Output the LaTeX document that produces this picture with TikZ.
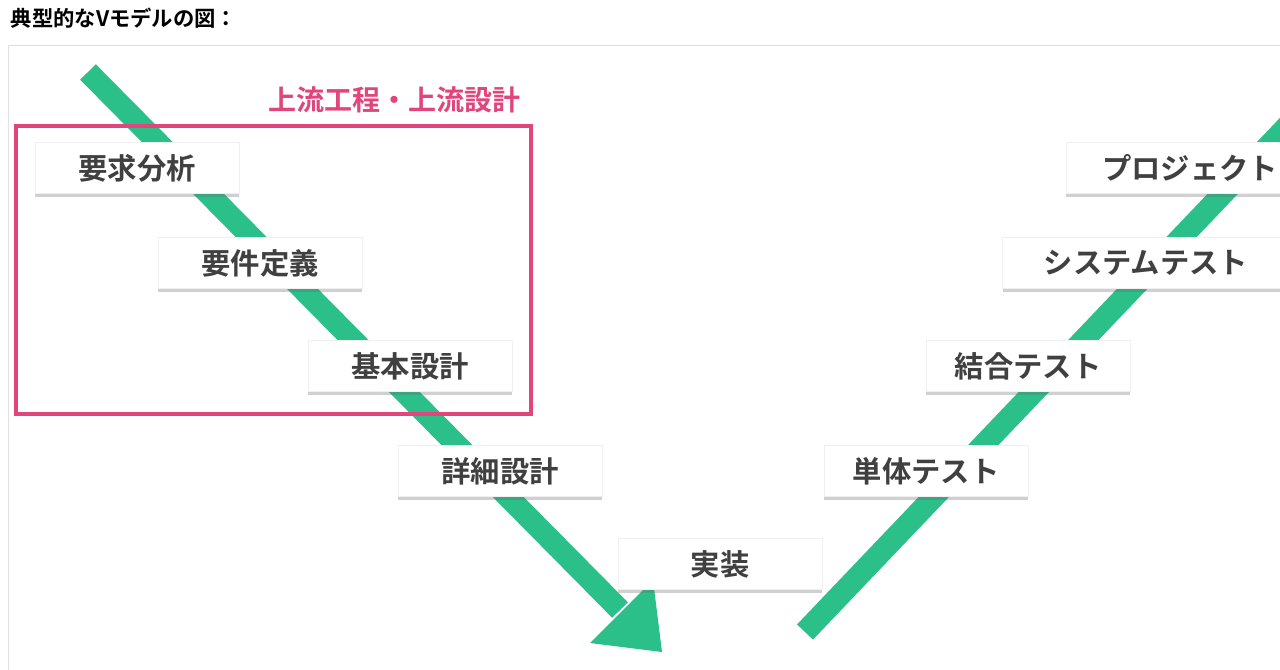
\documentclass[tikz,border=0pt]{standalone}
\usepackage{fontspec}
\newfontfamily\jp{Noto Sans CJK JP}[BoldFont={Noto Sans CJK JP Bold}]
\usetikzlibrary{shadows}
\definecolor{vgreen}{HTML}{2BBF8A}
\definecolor{vpink}{HTML}{E0457B}
\tikzset{
  stage/.style={fill=white, draw=black!6, minimum width=153pt, minimum height=38pt, inner sep=0pt,
    font=\jp\bfseries\fontsize{22}{26}\selectfont, text=black!75,
    drop shadow={shadow xshift=0pt, shadow yshift=-2.5pt, opacity=0.3, fill=black!60}},
  vline/.style={draw=vgreen, line width=16.5pt}
}
\begin{document}
\begin{tikzpicture}[x=0.75pt,y=-0.75pt]
\useasboundingbox (0,0) rectangle (1280,669);
\clip (0,0) rectangle (1280,669);
\fill[white] (0,0) rectangle (1280,669);
\node[anchor=west, font=\jp\bfseries\fontsize{16}{18}\selectfont] (title) at (6,18) {典型的なVモデルの図：};
\draw[black!12, line width=0.75pt] (8,45) -- (1290,45) (8,45) -- (8,680);
% left arm
\coordinate (ls) at (88,72);
\coordinate (le) at (620,610);
\draw[vline] (ls) -- (le);
\fill[vgreen] (662,652) -- (653,580) -- (590,643) -- cycle;
% right arm
\coordinate (rs) at (805,632);
\coordinate (re) at (1295,118);
\draw[vline] (rs) -- (re);
% stages
\node[stage] (a) at (137,168) {要求分析};
\node[stage] (b) at (260,263) {要件定義};
\node[stage] (c) at (410,366) {基本設計};
\node[stage] (d) at (500,471) {詳細設計};
\node[stage] (e) at (720,564) {実装};
\node[stage] (f) at (926,471) {単体テスト};
\node[stage] (g) at (1028,366) {結合テスト};
\node[stage, minimum width=215pt] (h) at (1146,263) {システムテスト};
\node[stage, minimum width=215pt, anchor=west, align=left, text width=205pt] (i) at (1066,168) {\hspace*{22pt}プロジェクト};
% upstream box
\draw[vpink, line width=3pt] (16,126) rectangle (531,414);
\node[text=vpink, font=\jp\bfseries\fontsize{21}{24}\selectfont] (up) at (394,100) {上流工程・上流設計};
\end{tikzpicture}
\end{document}
